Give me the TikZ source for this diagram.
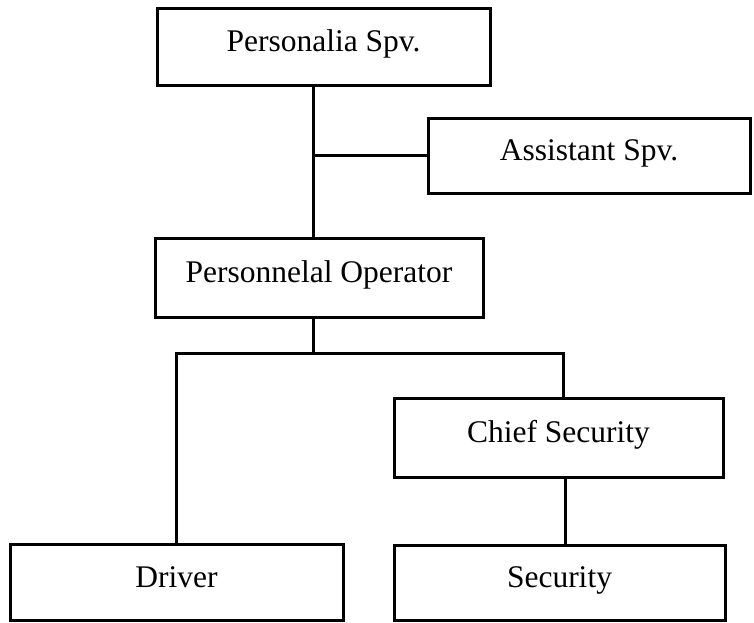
\documentclass[tikz,border=0pt]{standalone}
\usepackage{fontspec}
\setmainfont{Liberation Serif}
\usetikzlibrary{positioning}
\tikzset{
  orgbox/.style={draw, line width=3pt, inner sep=0pt, text height=12pt, text depth=2pt},
  orglink/.style={line width=3pt}
}

\begin{document}
\begin{tikzpicture}[x=1pt, y=-1pt, font=\fontsize{31.5}{36}\selectfont]
  \useasboundingbox (0,0) rectangle (754,622);
  % Top: supervisor and assistant
  \node[orgbox, minimum width=333pt, minimum height=77pt] (spv) at (323.5,46.5) {Personalia Spv.};
  \node[orgbox, minimum width=322pt, minimum height=75pt] (asst) at (589,155.5) {Assistant Spv.};
  % Middle: operator
  \node[orgbox, minimum width=328pt, minimum height=79pt] (oper) at (319,277.5) {Personnelal Operator};
  \node[orgbox, minimum width=329pt, minimum height=79pt] (chief) at (558.5,437.5) {Chief Security};
  % Bottom row
  \node[orgbox, minimum width=333pt, minimum height=76pt] (driver) at (176.5,582) {Driver};
  \node[orgbox, minimum width=331pt, minimum height=75pt] (sec) at (559.5,582.5) {Security};

  % Connectors
  \coordinate (trunk) at (313,155.5);
  \coordinate (split) at (313,353);
  \coordinate (rjoint) at (563,353);
  \draw[orglink] (spv.south -| trunk) -- (oper.north -| trunk);
  \draw[orglink] (trunk) -- (asst.west);
  \draw[orglink] (oper.south -| split) -- (split);
  \draw[orglink] (driver.north) |- (rjoint) -- (rjoint |- chief.north);
  \draw[orglink] ([xshift=6.5pt]chief.south) -- ([xshift=6.5pt]chief.south |- sec.north);
\end{tikzpicture}
\end{document}
